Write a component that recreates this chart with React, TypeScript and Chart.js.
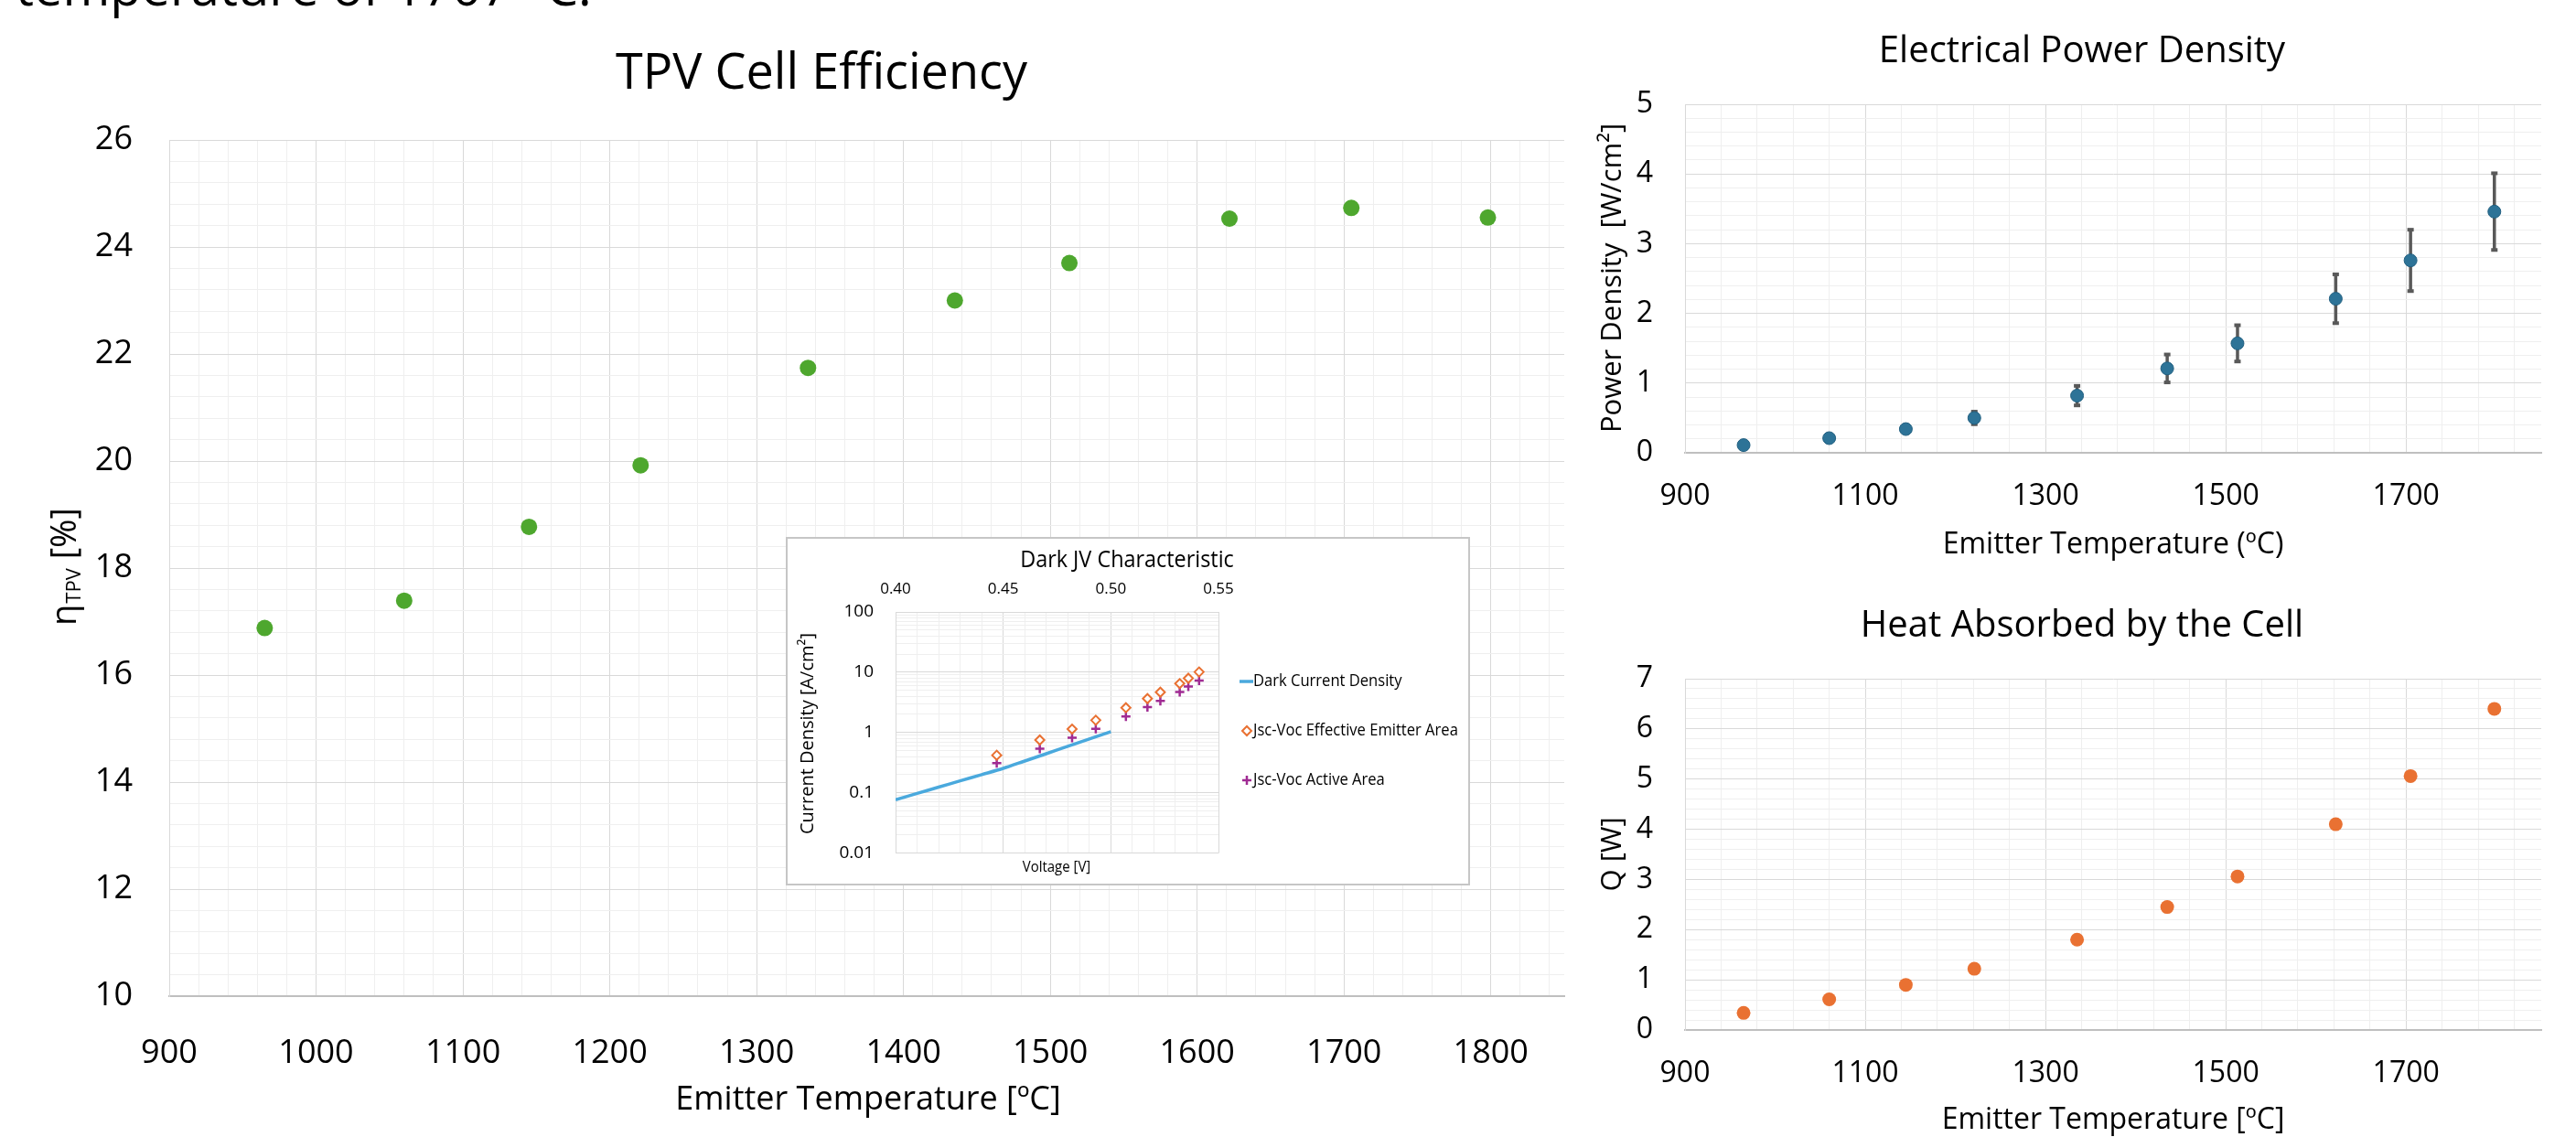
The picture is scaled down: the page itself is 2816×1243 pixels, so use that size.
import React, { useEffect, useRef } from 'react';
import { Chart, registerables } from 'chart.js';

Chart.register(...registerables);

const FONT = "'Open Sans', 'Liberation Sans', sans-serif";

// ---------- data ----------
const emitterTemp = [965, 1060, 1145, 1221, 1335, 1435, 1513, 1622, 1705, 1798];
const tpvEfficiency = [16.88, 17.39, 18.77, 19.92, 21.74, 23.0, 23.7, 24.53, 24.73, 24.55];
const powerDensity = [0.11, 0.21, 0.34, 0.5, 0.82, 1.21, 1.57, 2.21, 2.76, 3.46];
const powerError = [0.02, 0.03, 0.05, 0.09, 0.14, 0.2, 0.26, 0.35, 0.44, 0.55];
const heatAbsorbed = [0.34, 0.61, 0.9, 1.22, 1.8, 2.45, 3.06, 4.1, 5.06, 6.4];

const darkVoltage = [0.4, 0.41, 0.42, 0.43, 0.44, 0.45, 0.46, 0.47, 0.48, 0.49, 0.5];
const darkCurrent = [0.0766, 0.0975, 0.124, 0.158, 0.2, 0.254, 0.336, 0.445, 0.589, 0.782, 1.035];
const jvVoltage = [0.447, 0.467, 0.482, 0.493, 0.507, 0.517, 0.523, 0.532, 0.536, 0.541];
const jscEmitterArea = [0.42, 0.75, 1.14, 1.6, 2.58, 3.65, 4.66, 6.48, 7.93, 10.1];
const jscActiveArea = [0.31, 0.54, 0.82, 1.15, 1.84, 2.64, 3.34, 4.69, 5.8, 7.3];

const insetLegendLabels = ['Dark Current Density', 'Jsc-Voc Effective Emitter Area', 'Jsc-Voc Active Area'];
const logTickLabels: Record<number, string> = { [-2]: '0.01', [-1]: '0.1', 0: '1', 1: '10', 2: '100' };
const voltageTickLabels = ['0.40', '0.45', '0.50', '0.55'];

// ---------- styles ----------
const MAJOR = '#d9d9d9';
const MINOR = '#efefef';
const GREEN = '#4EA72E';
const ORANGE = '#E97132';
const BLUE = '#2d7397';
const PURPLE = '#A02B93';
const LIGHTBLUE = '#4aa9dd';

function steps(start: number, end: number, step: number): number[] {
  const out: number[] = [];
  const n = Math.round((end - start) / step + 1e-9);
  for (let i = 0; i <= n; i++) out.push(Math.round((start + i * step) * 1e6) / 1e6);
  return out;
}
const isMult = (v: number, m: number) => Math.abs(v / m - Math.round(v / m)) < 1e-6;

type TextItem = {
  text: string; x: number; y: number; size: number;
  align?: CanvasTextAlign; baseline?: CanvasTextBaseline; rotate?: number; scaleX?: number;
};

function textPlugin(items: TextItem[]) {
  return {
    id: 'texts',
    afterDraw(chart: any) {
      const ctx = chart.ctx as CanvasRenderingContext2D;
      items.forEach((t) => {
        ctx.save();
        ctx.translate(t.x, t.y);
        if (t.rotate) ctx.rotate(t.rotate);
        if (t.scaleX) ctx.scale(t.scaleX, 1);
        ctx.font = `${t.size}px ${FONT}`;
        ctx.fillStyle = '#000';
        ctx.textAlign = t.align || 'center';
        ctx.textBaseline = t.baseline || 'alphabetic';
        ctx.fillText(t.text, 0, 0);
        ctx.restore();
      });
    },
  };
}

function linearAxis(o: {
  min: number; max: number; minor: number; major: number; ticksTo: number;
  fit: number; horizontal: boolean; padding: number; fontSize: number; borderColor: string;
}) {
  const isMajor = (v: number) => isMult(v - o.min, o.major);
  return {
    type: 'linear',
    min: o.min,
    max: o.max,
    afterBuildTicks: (s: any) => {
      s.ticks = steps(o.min, o.ticksTo, o.minor).map((v) => ({ value: v }));
    },
    afterFit: (s: any) => {
      if (o.horizontal) s.height = o.fit;
      else s.width = o.fit;
    },
    grid: {
      color: (c: any) => (c.tick && isMajor(c.tick.value) ? MAJOR : MINOR),
      lineWidth: 1,
      drawTicks: false,
    },
    border: { color: o.borderColor, width: o.horizontal ? 2 : 1 },
    ticks: {
      autoSkip: false,
      maxRotation: 0,
      minRotation: 0,
      padding: o.padding,
      color: '#000',
      font: { size: o.fontSize, family: FONT },
      callback: (v: any) => (isMajor(Number(v)) ? String(Math.round(Number(v))) : ''),
    },
  };
}

const baseOptions = {
  responsive: false,
  maintainAspectRatio: false,
  animation: false,
  devicePixelRatio: 1,
  events: [] as any[],
};

function mainConfig(): any {
  return {
    type: 'scatter',
    data: {
      datasets: [
        {
          label: 'TPV Cell Efficiency',
          data: emitterTemp.map((t, i) => ({ x: t, y: tpvEfficiency[i] })),
          backgroundColor: GREEN,
          borderColor: GREEN,
          pointRadius: 9,
          borderWidth: 0,
        },
      ],
    },
    options: {
      ...baseOptions,
      layout: { padding: { left: 0, right: 40, top: 153, bottom: 0 } },
      plugins: { legend: { display: false }, tooltip: { enabled: false } },
      scales: {
        x: linearAxis({ min: 900, max: 1850, minor: 20, major: 100, ticksTo: 1840, fit: 154, horizontal: true, padding: 41, fontSize: 36, borderColor: '#bfbfbf' }),
        y: linearAxis({ min: 10, max: 26, minor: 0.4, major: 2, ticksTo: 26, fit: 185, horizontal: false, padding: 40, fontSize: 36, borderColor: MAJOR }),
      },
    },
    plugins: [
      textPlugin([
        { text: 'TPV Cell Efficiency', x: 898, y: 97, size: 54 },
        { text: 'Emitter Temperature [ºC]', x: 949, y: 1213, size: 36 },
      ]),
      {
        id: 'ytitle',
        afterDraw(chart: any) {
          const ctx = chart.ctx as CanvasRenderingContext2D;
          ctx.save();
          ctx.translate(72, 620);
          ctx.rotate(-Math.PI / 2);
          ctx.fillStyle = '#000';
          ctx.textBaseline = 'middle';
          ctx.textAlign = 'left';
          const big = `38px ${FONT}`;
          const small = `22px ${FONT}`;
          ctx.font = big;
          const w1 = ctx.measureText('η').width;
          const w3 = ctx.measureText(' [%]').width;
          ctx.font = small;
          const w2 = ctx.measureText('TPV').width;
          const x0 = -(w1 + w2 + w3) / 2;
          ctx.font = big;
          ctx.fillText('η', x0, 0);
          ctx.font = small;
          ctx.fillText('TPV', x0 + w1 + 1, 10);
          ctx.font = big;
          ctx.fillText(' [%]', x0 + w1 + w2 + 1, 0);
          ctx.restore();
        },
      },
    ],
  };
}

function powerConfig(): any {
  return {
    type: 'scatter',
    data: {
      datasets: [
        {
          label: 'Electrical Power Density',
          data: emitterTemp.map((t, i) => ({ x: t, y: powerDensity[i] })),
          backgroundColor: BLUE,
          borderColor: '#215f80',
          borderWidth: 1,
          pointRadius: 7,
        },
      ],
    },
    options: {
      ...baseOptions,
      layout: { padding: { left: 0, right: 38, top: 114, bottom: 0 } },
      plugins: { legend: { display: false }, tooltip: { enabled: false } },
      scales: {
        x: linearAxis({ min: 900, max: 1850, minor: 40, major: 200, ticksTo: 1820, fit: 125, horizontal: true, padding: 29, fontSize: 32, borderColor: '#bfbfbf' }),
        y: linearAxis({ min: 0, max: 5, minor: 0.2, major: 1, ticksTo: 5, fit: 122, horizontal: false, padding: 35, fontSize: 32, borderColor: MAJOR }),
      },
    },
    plugins: [
      {
        id: 'errorBars',
        beforeDatasetsDraw(chart: any) {
          const ctx = chart.ctx as CanvasRenderingContext2D;
          const xs = chart.scales.x;
          const ys = chart.scales.y;
          ctx.save();
          ctx.strokeStyle = '#595959';
          ctx.fillStyle = '#595959';
          ctx.lineWidth = 3.5;
          emitterTemp.forEach((t, i) => {
            const x = xs.getPixelForValue(t);
            const y1 = ys.getPixelForValue(powerDensity[i] + powerError[i]);
            const y2 = ys.getPixelForValue(powerDensity[i] - powerError[i]);
            ctx.beginPath();
            ctx.moveTo(x, y1);
            ctx.lineTo(x, y2);
            ctx.stroke();
            ctx.fillRect(x - 3.5, y1 - 2, 7, 4);
            ctx.fillRect(x - 3.5, y2 - 2, 7, 4);
          });
          ctx.restore();
        },
      },
      textPlugin([
        { text: 'Electrical Power Density', x: 556, y: 68, size: 40 },
        { text: 'Emitter Temperature (ºC)', x: 590, y: 605, size: 32 },
        { text: 'Power Density  [W/cm²]', x: 43, y: 304, size: 31, rotate: -Math.PI / 2, baseline: 'middle' },
      ]),
    ],
  };
}

function heatConfig(): any {
  return {
    type: 'scatter',
    data: {
      datasets: [
        {
          label: 'Heat Absorbed by the Cell',
          data: emitterTemp.map((t, i) => ({ x: t, y: heatAbsorbed[i] })),
          backgroundColor: ORANGE,
          borderColor: ORANGE,
          borderWidth: 0,
          pointRadius: 7.5,
        },
      ],
    },
    options: {
      ...baseOptions,
      layout: { padding: { left: 0, right: 38, top: 122, bottom: 0 } },
      plugins: { legend: { display: false }, tooltip: { enabled: false } },
      scales: {
        x: linearAxis({ min: 900, max: 1850, minor: 40, major: 200, ticksTo: 1820, fit: 117, horizontal: true, padding: 29, fontSize: 32, borderColor: '#bfbfbf' }),
        y: linearAxis({ min: 0, max: 7, minor: 0.2, major: 1, ticksTo: 7, fit: 122, horizontal: false, padding: 35, fontSize: 32, borderColor: MAJOR }),
      },
    },
    plugins: [
      textPlugin([
        { text: 'Heat Absorbed by the Cell', x: 556, y: 76, size: 40 },
        { text: 'Emitter Temperature [ºC]', x: 590, y: 614, size: 32 },
        { text: 'Q [W]', x: 43, y: 314, size: 31, rotate: -Math.PI / 2, baseline: 'middle' },
      ]),
    ],
  };
}

function insetConfig(): any {
  const logTicks: number[] = [];
  for (let e = -2; e <= 1; e++) for (let m = 1; m <= 9; m++) logTicks.push(m * Math.pow(10, e));
  logTicks.push(100);
  const isDecade = (v: number) => {
    const l = Math.log10(v);
    return Math.abs(l - Math.round(l)) < 1e-6;
  };
  return {
    type: 'scatter',
    data: {
      datasets: [
        {
          label: insetLegendLabels[0],
          data: darkVoltage.map((v, i) => ({ x: v, y: darkCurrent[i] })),
          showLine: true,
          borderColor: LIGHTBLUE,
          borderWidth: 3.5,
          pointRadius: 0,
          tension: 0.3,
        },
        {
          label: insetLegendLabels[1],
          data: jvVoltage.map((v, i) => ({ x: v, y: jscEmitterArea[i] })),
          pointStyle: 'rectRot',
          pointRadius: 5,
          borderColor: ORANGE,
          backgroundColor: '#ffffff',
          borderWidth: 2,
        },
        {
          label: insetLegendLabels[2],
          data: jvVoltage.map((v, i) => ({ x: v, y: jscActiveArea[i] })),
          pointStyle: 'cross',
          pointRadius: 5,
          borderColor: PURPLE,
          backgroundColor: PURPLE,
          borderWidth: 2.5,
        },
      ],
    },
    options: {
      ...baseOptions,
      layout: { padding: { left: 0, right: 275, top: 0, bottom: 34 } },
      plugins: { legend: { display: false }, tooltip: { enabled: false } },
      scales: {
        x: {
          type: 'linear',
          position: 'top',
          min: 0.4,
          max: 0.55,
          afterBuildTicks: (s: any) => {
            s.ticks = steps(0.4, 0.55, 0.01).map((v) => ({ value: v }));
          },
          afterFit: (s: any) => {
            s.height = 82;
          },
          grid: {
            color: (c: any) => (c.tick && isMult(c.tick.value, 0.05) ? MAJOR : MINOR),
            drawTicks: false,
          },
          border: { color: MAJOR },
          ticks: {
            autoSkip: false,
            maxRotation: 0,
            padding: 15,
            color: '#000',
            font: { size: 17, family: FONT },
            callback: (v: any) => {
              const n = Number(v);
              if (!isMult(n, 0.05)) return '';
              return voltageTickLabels[Math.round((n - 0.4) / 0.05)];
            },
          },
        },
        y: {
          type: 'logarithmic',
          min: 0.01,
          max: 100,
          afterBuildTicks: (s: any) => {
            s.ticks = logTicks.map((v) => ({ value: v }));
          },
          afterFit: (s: any) => {
            s.width = 120;
          },
          grid: {
            color: (c: any) => (c.tick && isDecade(c.tick.value) ? MAJOR : MINOR),
            drawTicks: false,
          },
          border: { color: MAJOR },
          ticks: {
            autoSkip: false,
            padding: 24,
            color: '#000',
            font: { size: 19, family: FONT },
            callback: (v: any) => {
              const n = Number(v);
              return isDecade(n) ? logTickLabels[Math.round(Math.log10(n))] : '';
            },
          },
        },
      },
    },
    plugins: [
      {
        id: 'insetBox',
        beforeDraw(chart: any) {
          const ctx = chart.ctx as CanvasRenderingContext2D;
          ctx.save();
          ctx.fillStyle = '#ffffff';
          ctx.fillRect(0, 0, chart.width, chart.height);
          ctx.strokeStyle = '#c6c6c6';
          ctx.lineWidth = 2;
          ctx.strokeRect(1, 1, chart.width - 2, chart.height - 2);
          ctx.restore();
        },
        afterDraw(chart: any) {
          const ctx = chart.ctx as CanvasRenderingContext2D;
          const ds = chart.data.datasets;
          const lx = 504;
          const rows = [158, 212, 266];
          ctx.save();
          // line sample
          ctx.strokeStyle = ds[0].borderColor;
          ctx.lineWidth = 3.5;
          ctx.beginPath();
          ctx.moveTo(lx - 8, rows[0]);
          ctx.lineTo(lx + 7, rows[0]);
          ctx.stroke();
          // diamond
          ctx.strokeStyle = ds[1].borderColor;
          ctx.lineWidth = 2;
          ctx.fillStyle = '#fff';
          ctx.beginPath();
          ctx.moveTo(lx - 5, rows[1]);
          ctx.lineTo(lx, rows[1] - 5);
          ctx.lineTo(lx + 5, rows[1]);
          ctx.lineTo(lx, rows[1] + 5);
          ctx.closePath();
          ctx.fill();
          ctx.stroke();
          // plus
          ctx.strokeStyle = ds[2].borderColor;
          ctx.lineWidth = 2.5;
          ctx.beginPath();
          ctx.moveTo(lx - 5, rows[2]);
          ctx.lineTo(lx + 5, rows[2]);
          ctx.moveTo(lx, rows[2] - 5);
          ctx.lineTo(lx, rows[2] + 5);
          ctx.stroke();
          ctx.fillStyle = '#000';
          ctx.textAlign = 'left';
          ctx.textBaseline = 'middle';
          ctx.font = `18px ${FONT}`;
          rows.forEach((y, i) => {
            ctx.save();
            ctx.translate(511, y);
            ctx.scale(0.92, 1);
            ctx.fillText(ds[i].label, 0, 0);
            ctx.restore();
          });
          ctx.restore();
        },
      },
      textPlugin([
        { text: 'Dark JV Characteristic', x: 373, y: 33, size: 26, scaleX: 0.9 },
        { text: 'Voltage [V]', x: 296, y: 366, size: 17, scaleX: 0.88 },
        { text: 'Current Density [A/cm²]', x: 24, y: 215, size: 20, rotate: -Math.PI / 2, baseline: 'middle' },
      ]),
    ],
  };
}

function ChartCanvas(props: { left: number; top: number; width: number; height: number; build: () => any }) {
  const ref = useRef<HTMLCanvasElement>(null);
  useEffect(() => {
    const chart = new Chart(ref.current as HTMLCanvasElement, props.build());
    return () => chart.destroy();
  }, []);
  return (
    <canvas
      ref={ref}
      width={props.width}
      height={props.height}
      style={{ position: 'absolute', left: props.left, top: props.top, width: props.width, height: props.height, display: 'block' }}
    />
  );
}

export default function App() {
  return (
    <div
      style={{
        position: 'absolute',
        left: 0,
        top: 0,
        width: 2816,
        height: 1243,
        overflow: 'hidden',
        background: '#ffffff',
      }}
    >
      <div
        style={{
          position: 'absolute',
          left: 17,
          top: -44,
          fontSize: 56,
          lineHeight: 1,
          fontFamily: FONT,
          whiteSpace: 'nowrap',
          color: '#000',
        }}
      >
        temperature of 1707 °C.
      </div>
      <ChartCanvas left={0} top={0} width={1750} height={1243} build={mainConfig} />
      <ChartCanvas left={859} top={587} width={748} height={381} build={insetConfig} />
      <ChartCanvas left={1720} top={0} width={1096} height={620} build={powerConfig} />
      <ChartCanvas left={1720} top={620} width={1096} height={623} build={heatConfig} />
    </div>
  );
}
